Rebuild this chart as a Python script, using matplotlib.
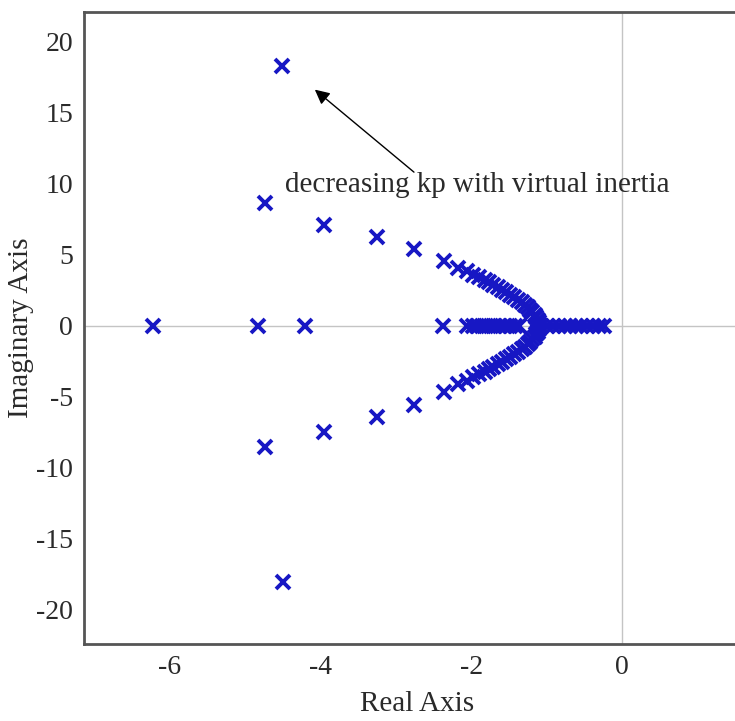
import numpy as np
import matplotlib as mpl
mpl.use('Agg')
import matplotlib.pyplot as plt

plt.rcParams['font.family'] = ['Liberation Serif', 'DejaVu Serif']
plt.rcParams['axes.unicode_minus'] = False

# poles (real, imag)
real_axis_poles = [-6.21, -4.82, -4.20, -2.37,
                   -2.05, -1.98, -1.92, -1.86, -1.80, -1.74, -1.68, -1.62, -1.55, -1.48, -1.42, -1.36,
                   -0.99, -0.92, -0.84, -0.76, -0.69, -0.61, -0.54, -0.46, -0.39, -0.31, -0.24]

outer_re = [-4.51, -4.49, -4.73, -4.73, -3.95, -3.95, -3.25, -3.25, -2.76, -2.76, -2.36, -2.36]
outer_im = [18.3, -18.0, 8.66, -8.5, 7.1, -7.44, 6.27, -6.39, 5.4, -5.56, 4.55, -4.65]

arc_re = [-2.17, -2.06, -1.97, -1.89, -1.82, -1.76, -1.71, -1.65, -1.59, -1.54, -1.49,
          -1.43, -1.38, -1.33, -1.29, -1.25, -1.22, -1.19, -1.16, -1.14, -1.12, -1.10, -1.09]
arc_im = [4.08, 3.85, 3.60, 3.42, 3.24, 3.06, 2.89, 2.71, 2.54, 2.36, 2.18,
          2.00, 1.83, 1.65, 1.48, 1.30, 1.13, 0.95, 0.77, 0.60, 0.42, 0.25, 0.07]

pole_color = '#1717c4'
txt_color = '#2a2a2a'

fig = plt.figure(figsize=(7.35, 7.21), dpi=100)
ax = fig.add_axes([84 / 735, 77 / 721, 1 - 84 / 735 + 0.02, (644 - 12) / 721])

ax.axhline(0, color='#c4c4c4', lw=1, zorder=1)
ax.axvline(0, color='#c4c4c4', lw=1, zorder=1)

mk = dict(marker='x', linestyle='none', color=pole_color, markersize=9.5, markeredgewidth=2.8, zorder=3)
ax.plot(real_axis_poles, np.zeros(len(real_axis_poles)), **mk)
ax.plot(outer_re, outer_im, **mk)
ax.plot(arc_re, arc_im, **mk)
ax.plot(arc_re, -np.array(arc_im), **mk)

ax.annotate('', xy=(-4.1, 16.76), xytext=(-2.73, 10.7),
            arrowprops=dict(arrowstyle='-|>', color='black', lw=1, mutation_scale=22))
ax.text(-4.47, 9.9, 'decreasing kp with virtual inertia', fontsize=21,
        color=txt_color, va='center', ha='left')

ax.set_xlim(-7.13, 1.69)
ax.set_ylim(-22.4, 22.1)
ax.set_xticks([-6, -4, -2, 0])
ax.set_yticks([-20, -15, -10, -5, 0, 5, 10, 15, 20])
ax.tick_params(length=0, labelsize=20, pad=8, colors=txt_color)
ax.set_xlabel('Real Axis', fontsize=21, color=txt_color, labelpad=8)
ax.set_ylabel('Imaginary Axis', fontsize=21, color=txt_color, labelpad=1)

for side in ['left', 'bottom', 'top']:
    ax.spines[side].set_linewidth(2)
    ax.spines[side].set_color('#555555')
ax.spines['right'].set_visible(False)

fig.savefig('out.png', dpi=100)
